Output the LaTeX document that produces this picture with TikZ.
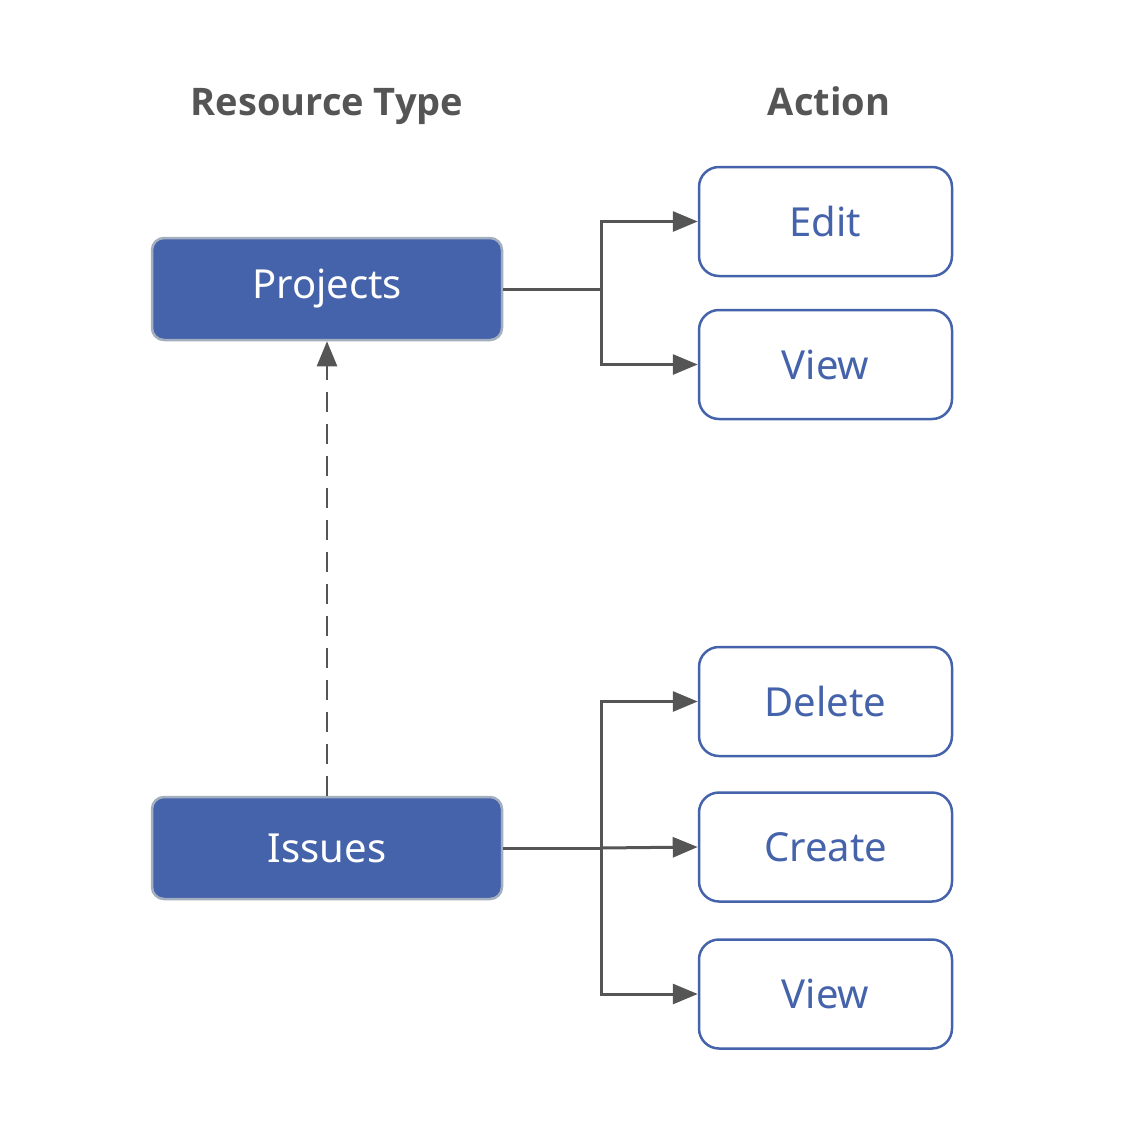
\documentclass[tikz,border=0pt]{standalone}
\usepackage{fontspec}
\setmainfont{Noto Sans}
\newfontfamily\headfont{Open Sans}
\usetikzlibrary{arrows.meta}
\definecolor{boxblue}{HTML}{4563AB}
\definecolor{boxgray}{HTML}{A3AEBF}
\definecolor{linegray}{HTML}{555555}
\begin{document}
\begin{tikzpicture}[x=1pt,y=-1pt]
\useasboundingbox (0,0) rectangle (1128,1120);
\tikzset{
  res/.style={draw=boxgray, line width=2.5pt, fill=boxblue, rounded corners=12pt,
    minimum width=350pt, minimum height=102pt, text=white, inner sep=0pt,
    font=\fontsize{40}{48}\selectfont},
  act/.style={draw=boxblue, line width=2.5pt, fill=white, rounded corners=20pt,
    minimum width=253pt, minimum height=109pt, text=boxblue, inner sep=0pt,
    font=\fontsize{40}{48}\selectfont},
  head/.style={text=linegray, anchor=base, inner sep=0pt,
    font=\headfont\bfseries\fontsize{38}{46}\selectfont},
  conn/.style={draw=linegray, line width=3pt},
  arr/.style={conn, -{Triangle[length=25pt,width=20pt]}},
}
\node[head] (h1) at (327,115) {Resource Type};
\node[head] (h2) at (829,115) {Action};
\node[res] (proj) at (327,289) {Projects};
\node[res] (iss) at (327,848) {Issues};
\node[act] (edit) at (825.5,221.5) {Edit};
\node[act] (view1) at (825.5,364.5) {View};
\node[act] (del) at (825.5,701.5) {Delete};
\node[act] (create) at (825.5,847) {Create};
\node[act] (view2) at (825.5,994) {View};
\coordinate (jp) at (601,289);
\coordinate (ji) at (601,848);
\draw[conn] (proj.east) -- (jp);
\draw[arr] (jp) |- (edit.west);
\draw[arr] (jp) |- (view1.west);
\draw[conn] (iss.east) -- (ji);
\draw[arr] (ji) |- (del.west);
\draw[arr] (ji) -- (create.west);
\draw[arr] (ji) |- (view2.west);
\draw[arr, line width=2.5pt, dash pattern=on 20pt off 12pt] (iss.north) -- (proj.south);
\end{tikzpicture}
\end{document}
